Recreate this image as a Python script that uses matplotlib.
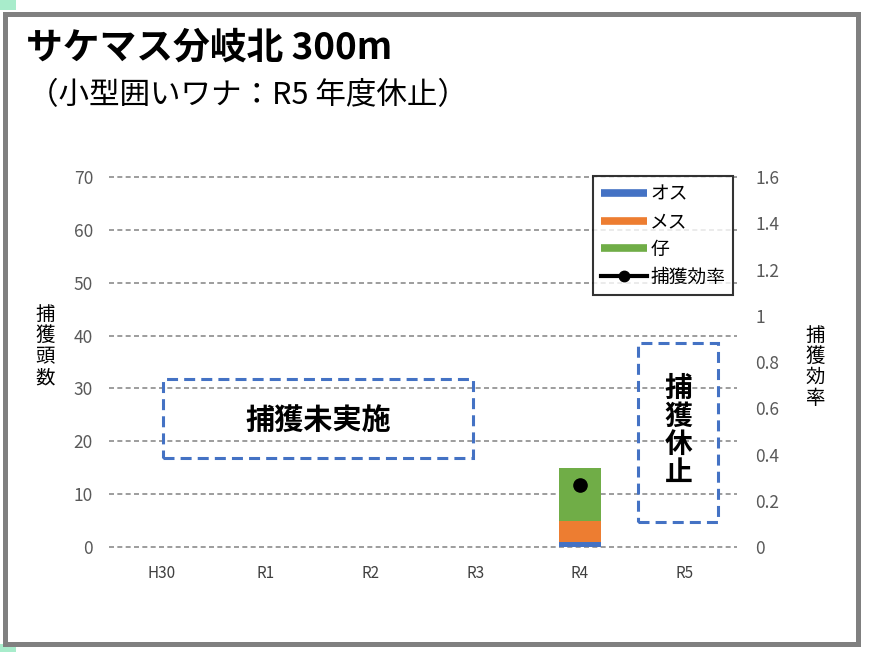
import matplotlib
matplotlib.use("Agg")
import matplotlib.pyplot as plt
from matplotlib.lines import Line2D
from matplotlib.patches import Rectangle

plt.rcParams['font.family'] = ['Noto Sans CJK JP', 'DejaVu Sans']

# ---- data ----
categories = ["H30", "R1", "R2", "R3", "R4", "R5"]
male = [0, 0, 0, 0, 1, 0]
female = [0, 0, 0, 0, 4, 0]
young = [0, 0, 0, 0, 10, 0]
efficiency_x = ["R4"]
efficiency = [0.27]
left_ticks = [0, 10, 20, 30, 40, 50, 60, 70]
right_ticks = [0, 0.2, 0.4, 0.6, 0.8, 1, 1.2, 1.4, 1.6]
right_tick_labels = ["0", "0.2", "0.4", "0.6", "0.8", "1", "1.2", "1.4", "1.6"]
series_names = ["オス", "メス", "仔", "捕獲効率"]
colors = ["#4472C4", "#ED7D31", "#70AD47"]

W, H = 874, 652
fig = plt.figure(figsize=(W / 100, H / 100), dpi=100)

def fx(px):
    return px / W

def fy(py):
    return 1 - py / H

# frame border
fig.patches.append(Rectangle((fx(0), fy(10)), fx(16), 10 / H, transform=fig.transFigure,
                             facecolor="#a8eccb", edgecolor="none", zorder=0))
fig.patches.append(Rectangle((fx(0), fy(652)), fx(16), 8 / H, transform=fig.transFigure,
                             facecolor="#a8eccb", edgecolor="none", zorder=0))
fig.patches.append(Rectangle((fx(5), fy(644)), fx(853), (644 - 14) / H, transform=fig.transFigure,
                             facecolor="white", edgecolor="#808080", linewidth=3.6, zorder=1))

# axes geometry: y=0 at px 547, y=70 at px 177
ppu = (547 - 177) / 70.0
ymin, ymax = -0.6, 71.3
ax_bottom_px = 547 + (-ymin) * ppu
ax_top_px = 547 - ymax * ppu
ax_left_px, ax_right_px = 109, 737
ax = fig.add_axes([fx(ax_left_px), fy(ax_bottom_px), fx(ax_right_px - ax_left_px),
                   (ax_bottom_px - ax_top_px) / H])
ax.set_zorder(3)
ax.patch.set_alpha(0)

x = list(range(len(categories)))
bw = 0.41
ax.bar(x, male, bw, color=colors[0], zorder=3)
ax.bar(x, female, bw, bottom=male, color=colors[1], zorder=3)
bottom2 = [m + f for m, f in zip(male, female)]
ax.bar(x, young, bw, bottom=bottom2, color=colors[2], zorder=3)

ax.set_xlim(-0.5, len(categories) - 0.5)
ax.set_ylim(ymin, ymax)
ax.set_yticks(left_ticks)
ax.set_yticklabels([str(v) for v in left_ticks])
ax.set_xticks(x)
ax.set_xticklabels(categories)
ax.grid(axis="y", color="#8c8c8c", linestyle=(0, (3, 2)), linewidth=1.2, zorder=1)
for s in ax.spines.values():
    s.set_visible(False)
ax.tick_params(axis="y", length=0, pad=11.5, labelsize=12.5, labelcolor="#595959")
ax.tick_params(axis="x", length=0, pad=11, labelsize=11, labelcolor="#404040")

ax2 = ax.twinx()
ax2.set_ylim(ymin * 1.6 / 70, ymax * 1.6 / 70)
ax2.set_yticks(right_ticks)
ax2.set_yticklabels(right_tick_labels)
for s in ax2.spines.values():
    s.set_visible(False)
ax2.tick_params(axis="y", length=0, pad=13, labelsize=12.5, labelcolor="#595959")
ex = [categories.index(c) for c in efficiency_x]
ax2.plot(ex, efficiency, color="black", linewidth=3, marker="o", markersize=9.5, zorder=5)

# dashed boxes (in data coords)
dash = (0, (3.6, 2.0))
box1 = Rectangle((0.02, 16.9), 2.96, 14.8, fill=False, edgecolor="#4472C4",
                 linewidth=2.2, linestyle=dash, zorder=4)
ax.add_patch(box1)
ax.text(1.50, 24.0, "捕獲未実施", ha="center", va="center", fontsize=21, fontweight="bold", zorder=5)
box2 = Rectangle((4.55, 4.8), 0.77, 33.8, fill=False, edgecolor="#4472C4",
                 linewidth=2.2, linestyle=dash, zorder=4)
ax.add_patch(box2)
ax.text(4.94, 21.9, "捕\n獲\n休\n止", ha="center", va="center", fontsize=20, fontweight="bold",
        linespacing=1.0, zorder=5)

# legend
handles = [Line2D([], [], color=colors[0], linewidth=5.5, solid_capstyle="butt"),
           Line2D([], [], color=colors[1], linewidth=5.5, solid_capstyle="butt"),
           Line2D([], [], color=colors[2], linewidth=5.5, solid_capstyle="butt"),
           Line2D([], [], color="black", linewidth=3, marker="o", markersize=7.5)]
leg = fig.legend(handles, series_names, loc="upper left", bbox_to_anchor=(fx(593), fy(176)),
                 frameon=True, fancybox=False, edgecolor="black", fontsize=13.5,
                 handlelength=2.5, handletextpad=0.15, labelspacing=0.36, borderpad=0.4,
                 borderaxespad=0)
leg.get_frame().set_linewidth(1.5)
leg.set_zorder(10)

# titles and axis labels
fig.text(fx(26), fy(48), "サケマス分岐北 300m", ha="left", va="center", fontsize=26.5, fontweight="bold")
fig.text(fx(28), fy(96), "（小型囲いワナ：R5 年度休止）", ha="left", va="center", fontsize=22)
fig.text(fx(45), fy(346), "捕\n獲\n頭\n数", ha="center", va="center", fontsize=14, linespacing=1.0)
fig.text(fx(815), fy(367), "捕\n獲\n効\n率", ha="center", va="center", fontsize=14, linespacing=1.0)

fig.savefig("out.png", dpi=100)
